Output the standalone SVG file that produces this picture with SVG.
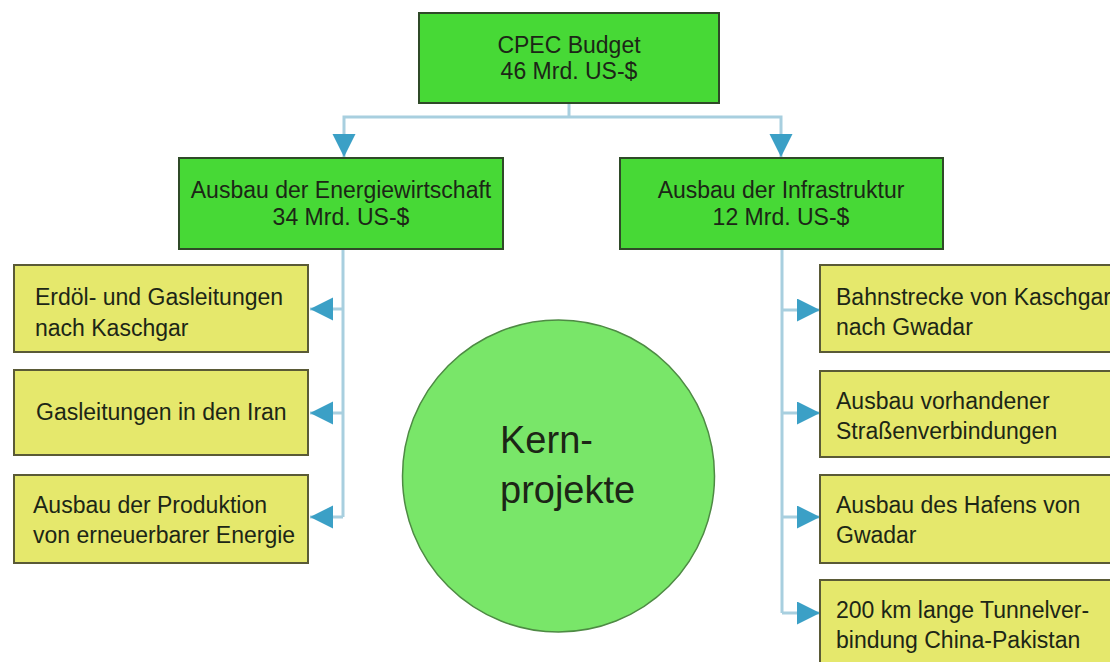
<svg xmlns="http://www.w3.org/2000/svg" width="1110" height="662" viewBox="0 0 1110 662">
<defs>
<style>
.g{fill:#47d936;stroke:#2f4a28;stroke-width:2}
.y{fill:#e5e86c;stroke:#5a5a36;stroke-width:2}
.t{font-family:"Liberation Sans",Arial,sans-serif;font-size:23px;fill:#1c2616}
.c{text-anchor:middle}
.con{fill:none;stroke:#a8cfdf;stroke-width:3}
</style>
<marker id="ah" markerUnits="userSpaceOnUse" markerWidth="24" markerHeight="24" refX="23" refY="11.5" orient="auto">
<path d="M0,0 L23,11.5 L0,23 Z" fill="#3ba0c6"/>
</marker>
</defs>
<rect width="1110" height="662" fill="#ffffff"/>
<g id="connectors">
<path class="con" d="M569,103 V117"/>
<path class="con" d="M569,117 H344 V157" marker-end="url(#ah)"/>
<path class="con" d="M569,117 H781 V157" marker-end="url(#ah)"/>
<path class="con" d="M343,249 V517"/>
<path class="con" d="M343,309 H310" marker-end="url(#ah)"/>
<path class="con" d="M343,413 H310" marker-end="url(#ah)"/>
<path class="con" d="M343,517 H310" marker-end="url(#ah)"/>
<path class="con" d="M782,249 V613"/>
<path class="con" d="M782,310 H820" marker-end="url(#ah)"/>
<path class="con" d="M782,413 H820" marker-end="url(#ah)"/>
<path class="con" d="M782,517 H820" marker-end="url(#ah)"/>
<path class="con" d="M782,613 H820" marker-end="url(#ah)"/>
</g>
<g id="budget">
<rect class="g" x="419" y="13" width="300" height="90"/>
<text class="t c" x="569" y="53">CPEC Budget</text>
<text class="t c" x="569" y="79">46 Mrd. US-$</text>
</g>
<g id="energie">
<rect class="g" x="179" y="158" width="324" height="91"/>
<text class="t c" x="341" y="198">Ausbau der Energiewirtschaft</text>
<text class="t c" x="341" y="225">34 Mrd. US-$</text>
</g>
<g id="infra">
<rect class="g" x="620" y="158" width="323" height="91"/>
<text class="t c" x="781" y="198">Ausbau der Infrastruktur</text>
<text class="t c" x="781" y="225">12 Mrd. US-$</text>
</g>
<g id="e1">
<rect class="y" x="14" y="265" width="294" height="87"/>
<text class="t" x="35" y="305">Erdöl- und Gasleitungen</text>
<text class="t" x="35" y="336">nach Kaschgar</text>
</g>
<g id="e2">
<rect class="y" x="14" y="370" width="294" height="85"/>
<text class="t" x="36" y="420">Gasleitungen in den Iran</text>
</g>
<g id="e3">
<rect class="y" x="14" y="475" width="294" height="88"/>
<text class="t" x="33" y="513">Ausbau der Produktion</text>
<text class="t" x="33" y="543">von erneuerbarer Energie</text>
</g>
<g id="i1">
<rect class="y" x="820" y="265" width="300" height="87"/>
<text class="t" x="836" y="305">Bahnstrecke von Kaschgar</text>
<text class="t" x="836" y="335">nach Gwadar</text>
</g>
<g id="i2">
<rect class="y" x="820" y="371" width="300" height="86"/>
<text class="t" x="836" y="409">Ausbau vorhandener</text>
<text class="t" x="836" y="439">Straßenverbindungen</text>
</g>
<g id="i3">
<rect class="y" x="820" y="475" width="300" height="88"/>
<text class="t" x="836" y="513">Ausbau des Hafens von</text>
<text class="t" x="836" y="543">Gwadar</text>
</g>
<g id="i4">
<rect class="y" x="820" y="580" width="300" height="90"/>
<text class="t" x="836" y="618">200 km lange Tunnelver-</text>
<text class="t" x="836" y="648">bindung China-Pakistan</text>
</g>
<g id="kern">
<circle cx="558.5" cy="476" r="156" fill="#79e669" stroke="#4e8a44" stroke-width="1.5"/>
<text class="t" x="500" y="453" style="font-size:38px">Kern-</text>
<text class="t" x="500" y="503" style="font-size:38px">projekte</text>
</g>
</svg>
